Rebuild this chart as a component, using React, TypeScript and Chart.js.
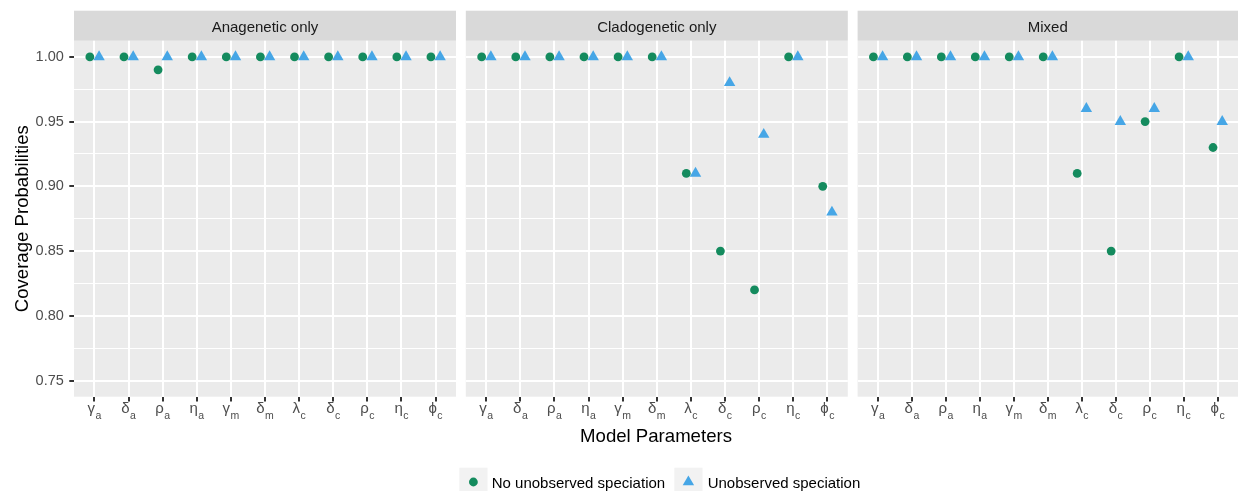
import React, { useEffect, useRef } from 'react';
import { Chart, registerables } from 'chart.js';

Chart.register(...registerables);

// ---------- data ----------
const paramSymbols = ['γ', 'δ', 'ρ', 'η', 'γ', 'δ', 'λ', 'δ', 'ρ', 'η', 'ϕ'];
const paramSubscripts = ['a', 'a', 'a', 'a', 'm', 'm', 'c', 'c', 'c', 'c', 'c'];
const paramPositions = [1, 2, 3, 4, 5, 6, 7, 8, 9, 10, 11];

const panelTitles = ['Anagenetic only', 'Cladogenetic only', 'Mixed'];
const seriesLabels = ['No unobserved speciation', 'Unobserved speciation'];

const anageneticNoUnobserved = [1.0, 1.0, 0.99, 1.0, 1.0, 1.0, 1.0, 1.0, 1.0, 1.0, 1.0];
const anageneticUnobserved = [1.0, 1.0, 1.0, 1.0, 1.0, 1.0, 1.0, 1.0, 1.0, 1.0, 1.0];
const cladogeneticNoUnobserved = [1.0, 1.0, 1.0, 1.0, 1.0, 1.0, 0.91, 0.85, 0.82, 1.0, 0.9];
const cladogeneticUnobserved = [1.0, 1.0, 1.0, 1.0, 1.0, 1.0, 0.91, 0.98, 0.94, 1.0, 0.88];
const mixedNoUnobserved = [1.0, 1.0, 1.0, 1.0, 1.0, 1.0, 0.91, 0.85, 0.95, 1.0, 0.93];
const mixedUnobserved = [1.0, 1.0, 1.0, 1.0, 1.0, 1.0, 0.96, 0.95, 0.96, 1.0, 0.95];

const yMajorTicks = [0.75, 0.8, 0.85, 0.9, 0.95, 1.0];
const yMinorTicks = [0.775, 0.825, 0.875, 0.925, 0.975];

const panelSeries = [
  [anageneticNoUnobserved, anageneticUnobserved],
  [cladogeneticNoUnobserved, cladogeneticUnobserved],
  [mixedNoUnobserved, mixedUnobserved],
];

// ---------- style / layout ----------
const FONT = '"Liberation Sans", Arial, Helvetica, sans-serif';
const W = 1238;
const H = 491;
const PANEL_LEFTS = [74, 465.8, 857.6];
const PANEL_W = 382;
const PANEL_TOP = 40.7;
const PANEL_BOTTOM = 396.7;
const STRIP_TOP = 10.7;
const X_AXIS_H = 20;
const Y_AXIS_W = 40;
const Y_MIN = 0.7375;
const Y_MAX = 1.0125;
const X_MIN = 0.4;
const X_MAX = 11.6;
const DODGE = 0.135;
const GREEN = '#148B5E';
const BLUE = '#46A6E6';
const SERIES_COLORS = [GREEN, BLUE];
const SERIES_STYLES = ['circle', 'triangle'];
const SERIES_RADII = [4.4, 6.6];
const SERIES_OFFSETS = [-DODGE, DODGE];

const isMinor = (v: number) => yMinorTicks.some((m) => Math.abs(m - v) < 1e-6);

function drawTriangle(ctx: CanvasRenderingContext2D, x: number, y: number, r: number) {
  let rad = 0;
  ctx.beginPath();
  for (let i = 0; i < 3; i++) {
    const px = x + Math.sin(rad) * r;
    const py = y - Math.cos(rad) * r;
    if (i === 0) ctx.moveTo(px, py);
    else ctx.lineTo(px, py);
    rad += (2 * Math.PI) / 3;
  }
  ctx.closePath();
  ctx.fill();
}

function buildConfig(k: number): any {
  const left = PANEL_LEFTS[k];
  const first = k === 0;
  const datasets = panelSeries[k].map((vals, s) => ({
    label: seriesLabels[s],
    data: vals.map((v, i) => ({ x: paramPositions[i] + SERIES_OFFSETS[s], y: v })),
    pointStyle: SERIES_STYLES[s],
    pointRadius: SERIES_RADII[s],
    pointBackgroundColor: SERIES_COLORS[s],
    pointBorderWidth: 0,
    backgroundColor: SERIES_COLORS[s],
    borderWidth: 0,
    showLine: false,
  }));

  const panelPlugin = {
    id: 'panelDeco' + k,
    beforeDraw(chart: any) {
      const ctx = chart.ctx as CanvasRenderingContext2D;
      const ca = chart.chartArea;
      ctx.save();
      ctx.fillStyle = '#EBEBEB';
      ctx.fillRect(ca.left, ca.top, ca.right - ca.left, ca.bottom - ca.top);
      // strip
      ctx.fillStyle = '#D9D9D9';
      ctx.fillRect(ca.left, STRIP_TOP, ca.right - ca.left, PANEL_TOP - STRIP_TOP);
      ctx.fillStyle = '#1A1A1A';
      ctx.font = `15px ${FONT}`;
      ctx.textAlign = 'center';
      ctx.textBaseline = 'alphabetic';
      ctx.fillText(panelTitles[k], (ca.left + ca.right) / 2, 31.5);
      ctx.restore();
    },
    afterDraw(chart: any) {
      const ctx = chart.ctx as CanvasRenderingContext2D;
      const xs = chart.scales.x;
      ctx.save();
      ctx.fillStyle = '#4D4D4D';
      ctx.textAlign = 'left';
      ctx.textBaseline = 'alphabetic';
      paramPositions.forEach((p, i) => {
        ctx.font = `15px ${FONT}`;
        const w1 = ctx.measureText(paramSymbols[i]).width;
        ctx.font = `10.5px ${FONT}`;
        const w2 = ctx.measureText(paramSubscripts[i]).width;
        const cx = xs.getPixelForValue(p);
        const x0 = cx - (w1 + w2 + 0.5) / 2;
        ctx.font = `15px ${FONT}`;
        ctx.fillText(paramSymbols[i], x0, 413);
        ctx.font = `10.5px ${FONT}`;
        ctx.fillText(paramSubscripts[i], x0 + w1 + 0.5, 418.5);
      });

      if (first) {
        // axis titles
        ctx.fillStyle = '#000000';
        ctx.font = `18.6px ${FONT}`;
        ctx.textAlign = 'center';
        const xCenter = (PANEL_LEFTS[0] + W) / 2;
        ctx.fillText('Model Parameters', xCenter, 441.5);
        ctx.save();
        ctx.translate(27.5, (PANEL_TOP + PANEL_BOTTOM) / 2);
        ctx.rotate(-Math.PI / 2);
        ctx.fillText('Coverage Probabilities', 0, 0);
        ctx.restore();

        // legend
        const keyX = [459.3, 674.3];
        const textX = [491.7, 707.7];
        const keyTop = 467.7;
        const keySize = 28.2;
        const cy = 482;
        ctx.font = `15px ${FONT}`;
        ctx.textAlign = 'left';
        for (let s = 0; s < 2; s++) {
          ctx.fillStyle = '#F2F2F2';
          ctx.fillRect(keyX[s], keyTop, keySize, keySize);
          ctx.fillStyle = SERIES_COLORS[s];
          const mx = keyX[s] + keySize / 2;
          if (SERIES_STYLES[s] === 'circle') {
            ctx.beginPath();
            ctx.arc(mx, cy, SERIES_RADII[s], 0, Math.PI * 2);
            ctx.fill();
          } else {
            drawTriangle(ctx, mx, cy, SERIES_RADII[s]);
          }
          ctx.fillStyle = '#000000';
          ctx.fillText(seriesLabels[s], textX[s], 487.8);
        }
      }
      ctx.restore();
    },
  };

  return {
    type: 'scatter',
    data: { datasets },
    options: {
      animation: false,
      responsive: false,
      maintainAspectRatio: false,
      devicePixelRatio: 1,
      events: [],
      layout: {
        autoPadding: false,
        padding: {
          left: first ? left - Y_AXIS_W : left,
          right: Math.max(0, W - (left + PANEL_W)),
          top: PANEL_TOP,
          bottom: H - PANEL_BOTTOM - X_AXIS_H,
        },
      },
      plugins: {
        legend: { display: false },
        tooltip: { enabled: false },
        title: { display: false },
      },
      scales: {
        x: {
          type: 'linear',
          position: 'bottom',
          min: X_MIN,
          max: X_MAX,
          afterBuildTicks: (scale: any) => {
            scale.ticks = paramPositions.map((v) => ({ value: v }));
          },
          afterFit: (scale: any) => {
            scale.height = X_AXIS_H;
          },
          ticks: { display: false },
          border: { display: false },
          grid: {
            color: '#FFFFFF',
            lineWidth: 2,
            drawTicks: true,
            tickLength: 4.7,
            tickColor: '#333333',
            tickWidth: 2,
          },
        },
        y: {
          type: 'linear',
          position: 'left',
          min: Y_MIN,
          max: Y_MAX,
          afterBuildTicks: (scale: any) => {
            scale.ticks = [...yMajorTicks, ...yMinorTicks]
              .sort((a, b) => a - b)
              .map((v) => ({ value: v }));
          },
          afterFit: (scale: any) => {
            scale.width = first ? Y_AXIS_W : 0;
          },
          border: { display: false },
          ticks: {
            display: first,
            padding: 5.5,
            color: '#4D4D4D',
            font: { family: FONT, size: 14.5 },
            autoSkip: false,
            callback: (v: number) => (isMinor(v) ? '' : v.toFixed(2)),
          },
          grid: {
            color: '#FFFFFF',
            lineWidth: (c: any) => (c.tick && isMinor(c.tick.value) ? 1 : 2),
            drawTicks: first,
            tickLength: 4.7,
            tickWidth: 2,
            tickColor: (c: any) =>
              c.tick && isMinor(c.tick.value) ? 'rgba(0,0,0,0)' : '#333333',
          },
        },
      },
    },
    plugins: [panelPlugin],
  };
}

export default function App() {
  const r0 = useRef<HTMLCanvasElement>(null);
  const r1 = useRef<HTMLCanvasElement>(null);
  const r2 = useRef<HTMLCanvasElement>(null);

  useEffect(() => {
    document.body.style.margin = '0';
    const canvases = [r0.current, r1.current, r2.current];
    const charts = canvases.map((c, k) => new Chart(c as HTMLCanvasElement, buildConfig(k)));
    return () => charts.forEach((c) => c.destroy());
  }, []);

  const style: React.CSSProperties = {
    position: 'absolute',
    left: 0,
    top: 0,
    width: W,
    height: H,
  };

  return (
    <div style={{ position: 'relative', width: W, height: H, overflow: 'hidden', background: '#FFFFFF' }}>
      <canvas ref={r0} width={W} height={H} style={style} />
      <canvas ref={r1} width={W} height={H} style={style} />
      <canvas ref={r2} width={W} height={H} style={style} />
    </div>
  );
}
